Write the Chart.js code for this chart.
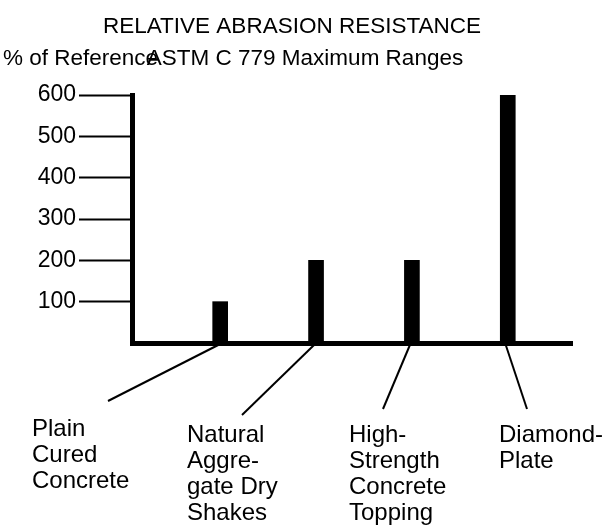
<!DOCTYPE html>
<html>
<head>
<meta charset="utf-8">
<script src="https://cdn.jsdelivr.net/npm/chart.js@4"></script>
<style>
  body { margin: 0; background: #fff; }
  canvas { display: block; }
</style>
</head>
<body>
<canvas id="chart" width="611" height="525"></canvas>
<script>
// chart data
const categories = [
    ["Plain", "Cured", "Concrete"],
    ["Natural", "Aggre-", "gate Dry", "Shakes"],
    ["High-", "Strength", "Concrete", "Topping"],
    ["Diamond-", "Plate"]
];
const values = [100, 200, 200, 600];
const yTickValues = [100, 200, 300, 400, 500, 600];
const titleLines = ["RELATIVE ABRASION RESISTANCE", "ASTM C 779 Maximum Ranges"];
const yAxisTitle = "% of Reference";

const FONT = '"Liberation Sans", Arial, sans-serif';

// where each category label sits and where its leader line ends
const labelSpots = [
    { x: 32,  y: 436, lineX: 108, lineY: 401 },
    { x: 187, y: 442, lineX: 242, lineY: 415 },
    { x: 349, y: 442, lineX: 383, lineY: 409 },
    { x: 499, y: 442, lineX: 527, lineY: 409 }
];

const textPlugin = {
    id: "textPlugin",
    afterDraw(chart) {
        const ctx = chart.ctx;
        const xs = chart.scales.x;
        const ys = chart.scales.y;
        ctx.save();
        ctx.fillStyle = "#000";
        ctx.textBaseline = "alphabetic";

        // titles
        ctx.font = "22.5px " + FONT;
        ctx.textAlign = "center";
        ctx.fillText(titleLines[0], 292, 33);
        ctx.fillText(titleLines[1], 305, 65);
        ctx.textAlign = "left";
        ctx.fillText(yAxisTitle, 3, 65);

        // leader lines and category labels
        const baseY = ys.getPixelForValue(0) + 2;
        ctx.strokeStyle = "#000";
        ctx.lineWidth = 2;
        ctx.font = "24px " + FONT;
        categories.forEach((lines, i) => {
            const spot = labelSpots[i];
            const bx = xs.getPixelForValue(i + 1);
            ctx.beginPath();
            ctx.moveTo(bx - 2, baseY);
            ctx.lineTo(spot.lineX, spot.lineY);
            ctx.stroke();
            lines.forEach((line, j) => {
                ctx.fillText(line, spot.x, spot.y + j * 26);
            });
        });
        ctx.restore();
    }
};

new Chart(document.getElementById("chart"), {
    type: "bar",
    data: {
        datasets: [{
            data: values.map((v, i) => ({ x: i + 1, y: v })),
            backgroundColor: "#000",
            borderWidth: 0,
            barThickness: 15
        }]
    },
    options: {
        responsive: false,
        animation: false,
        layout: { padding: { top: 95, right: 39, bottom: 182, left: 0 } },
        plugins: {
            legend: { display: false },
            tooltip: { enabled: false }
        },
        scales: {
            x: {
                type: "linear",
                offset: false,
                min: 0.08,
                max: 4.67,
                ticks: { display: false },
                grid: { display: false },
                border: { display: true, color: "#000", width: 5 },
                afterFit: s => { s.height = 0; }
            },
            y: {
                min: 0,
                max: 600,
                afterBuildTicks: s => { s.ticks = yTickValues.map(v => ({ value: v })); },
                ticks: {
                    color: "#000",
                    padding: 3,
                    font: { family: FONT, size: 23 }
                },
                grid: {
                    drawOnChartArea: false,
                    tickLength: 53,
                    tickWidth: 2,
                    tickColor: "#000"
                },
                border: { display: true, color: "#000", width: 5 },
                afterFit: s => { s.width = 132; }
            }
        }
    },
    plugins: [textPlugin]
});
</script>
</body>
</html>
